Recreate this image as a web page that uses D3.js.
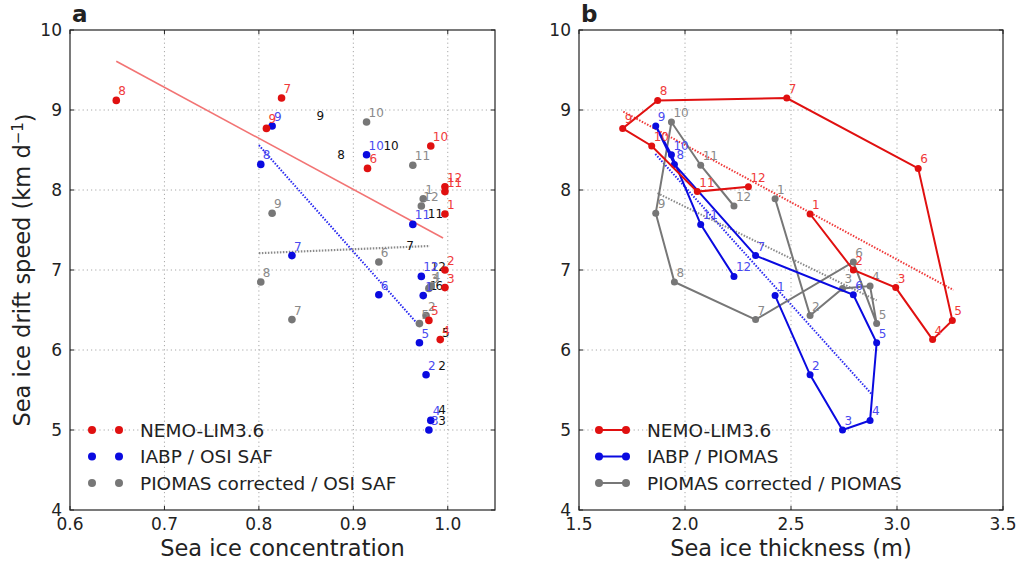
<!DOCTYPE html>
<html>
<head>
<meta charset="utf-8">
<script src="https://cdn.jsdelivr.net/npm/d3@7"></script>
<style>
  body { margin: 0; background: #fff; }
  svg { font-family: "DejaVu Sans", sans-serif; }
  .tick-label { font-size: 17px; fill: #222; }
  .axis-title { font-size: 22.5px; fill: #222; }
  .legend-text { font-size: 18.5px; fill: #222; }
  .month { font-size: 12px; }
</style>
</head>
<body>
<svg id="chart" width="1019" height="565"></svg>
<script>
// === DATA ===

const MONTHS = [1, 2, 3, 4, 5, 6, 7, 8, 9, 10, 11, 12];

// NEMO-LIM3.6
const nemoSpeed = [7.70, 7.00, 6.78, 6.13, 6.37, 8.27, 9.15, 9.12, 8.77, 8.55, 7.98, 8.04];
const nemoConc  = [0.997, 0.997, 0.997, 0.992, 0.980, 0.915, 0.824, 0.649, 0.808, 0.982, 0.997, 0.997];
const nemoThick = [2.59, 2.794, 2.994, 3.168, 3.261, 3.10, 2.48, 1.871, 1.706, 1.843, 2.058, 2.299];

// observations
const iabpSpeed   = [6.68, 5.69, 5.00, 5.12, 6.09, 6.69, 7.18, 8.32, 8.80, 8.44, 7.57, 6.92];
const piomasSpeed = [7.89, 6.43, 6.77, 6.80, 6.33, 7.10, 6.38, 6.85, 7.71, 8.85, 8.31, 7.80];
const osiConc     = [0.974, 0.977, 0.980, 0.982, 0.970, 0.927, 0.835, 0.802, 0.814, 0.914, 0.963, 0.972];
const piomasThick = [2.425, 2.590, 2.743, 2.873, 2.904, 2.794, 2.333, 1.950, 1.862, 1.936, 2.074, 2.231];

// black month labels in panel a (no markers)
const blackMonths = [9, 8, 10, 11, 7, 12, 1, 6, 5, 2, 4, 3];
const blackConc   = [0.865, 0.887, 0.940, 0.987, 0.960, 0.990, 0.985, 0.991, 0.998, 0.994, 0.994, 0.994];
const blackSpeed  = [8.925, 8.44, 8.56, 7.70, 7.31, 7.04, 6.81, 6.81, 6.22, 5.80, 5.25, 5.12];

// trend lines [x0, x1], [y0, y1]
const trendA = {
  nemo:   { x: [0.649, 0.995], y: [9.61, 7.40] },
  iabp:   { x: [0.800, 0.970], y: [8.56, 6.30] },
  piomas: { x: [0.800, 0.981], y: [7.21, 7.30] }
};
const trendB = {
  nemo:   { x: [1.709, 3.266], y: [8.98, 6.75] },
  iabp:   { x: [1.860, 2.880], y: [8.45, 5.45] },
  piomas: { x: [1.870, 2.904], y: [7.96, 6.62] }
};

const xTicksA = [0.6, 0.7, 0.8, 0.9, 1.0];
const xTicksB = [1.5, 2.0, 2.5, 3.0, 3.5];
const yTicks  = [4, 5, 6, 7, 8, 9, 10];

const legendA = ['NEMO-LIM3.6', 'IABP / OSI SAF', 'PIOMAS corrected / OSI SAF'];
const legendB = ['NEMO-LIM3.6', 'IABP / PIOMAS', 'PIOMAS corrected / PIOMAS'];

// === STYLE ===

const COLORS = { nemo: '#e01010', iabp: '#0a0ae0', piomas: '#777777' };
const LABEL_COLORS = { nemo: '#f03a3a', iabp: '#4a4af0', piomas: '#8a8a8a' };

const svg = d3.select('#chart');
const plotTop = 30, plotBottom = 510;

const y = d3.scaleLinear().domain([4, 10]).range([plotBottom, plotTop]);

// === PANEL FRAME / GRID ===

function drawFrame(g, x, xTicks, xFmt, left, right, letter) {
  const gridX = xTicks.filter(t => x(t) > left + 1 && x(t) < right - 1);
  g.selectAll(null).data(gridX)
    .join('line')
    .attr('x1', d => x(d)).attr('x2', d => x(d))
    .attr('y1', plotTop).attr('y2', plotBottom)
    .attr('stroke', '#a8a8a8').attr('stroke-dasharray', '1.2,3').attr('stroke-width', 1);
  g.selectAll(null).data(yTicks.slice(1, -1))
    .join('line')
    .attr('x1', left).attr('x2', right)
    .attr('y1', d => y(d)).attr('y2', d => y(d))
    .attr('stroke', '#a8a8a8').attr('stroke-dasharray', '1.2,3').attr('stroke-width', 1);

  // inward ticks
  xTicks.forEach(t => {
    g.append('line').attr('x1', x(t)).attr('x2', x(t)).attr('y1', plotBottom).attr('y2', plotBottom - 4).attr('stroke', '#222');
    g.append('line').attr('x1', x(t)).attr('x2', x(t)).attr('y1', plotTop).attr('y2', plotTop + 4).attr('stroke', '#222');
  });
  yTicks.forEach(t => {
    g.append('line').attr('x1', left).attr('x2', left + 4).attr('y1', y(t)).attr('y2', y(t)).attr('stroke', '#222');
    g.append('line').attr('x1', right).attr('x2', right - 4).attr('y1', y(t)).attr('y2', y(t)).attr('stroke', '#222');
  });

  // tick labels
  g.selectAll(null).data(xTicks).join('text')
    .attr('class', 'tick-label')
    .attr('x', d => x(d)).attr('y', 530)
    .attr('text-anchor', 'middle')
    .text(xFmt);
  g.selectAll(null).data(yTicks).join('text')
    .attr('class', 'tick-label')
    .attr('x', left - 8).attr('y', d => y(d))
    .attr('dy', '0.36em')
    .attr('text-anchor', 'end')
    .text(d => d);

  // frame
  g.append('rect')
    .attr('x', left).attr('y', plotTop)
    .attr('width', right - left).attr('height', plotBottom - plotTop)
    .attr('fill', 'none').attr('stroke', '#222').attr('stroke-width', 1.2);

  // panel letter
  g.append('text')
    .attr('x', left + 2).attr('y', 22)
    .attr('font-size', 23).attr('font-weight', 'bold').attr('fill', '#222')
    .text(letter);
}

function drawTrend(g, x, t, color, dash, width) {
  g.append('line')
    .attr('x1', x(t.x[0])).attr('y1', y(t.y[0]))
    .attr('x2', x(t.x[1])).attr('y2', y(t.y[1]))
    .attr('stroke', color).attr('stroke-width', width)
    .attr('stroke-dasharray', dash);
}

function drawSeries(g, x, xs, ys, key, r, withLine) {
  const pts = MONTHS.map((m, i) => ({ m, x: xs[i], y: ys[i] }));
  if (withLine) {
    g.append('path')
      .datum(pts)
      .attr('fill', 'none')
      .attr('stroke', COLORS[key]).attr('stroke-width', 2)
      .attr('d', d3.line().x(d => x(d.x)).y(d => y(d.y)));
  }
  g.selectAll(null).data(pts).join('circle')
    .attr('cx', d => x(d.x)).attr('cy', d => y(d.y))
    .attr('r', r).attr('fill', COLORS[key]);
  g.selectAll(null).data(pts).join('text')
    .attr('class', 'month')
    .attr('x', d => x(d.x) + 2).attr('y', d => y(d.y) - 5)
    .attr('fill', LABEL_COLORS[key])
    .text(d => d.m);
}

function drawLegend(g, labels, x0, withLine) {
  const keys = ['nemo', 'iabp', 'piomas'];
  labels.forEach((lab, i) => {
    const ly = 430 + i * 26.5;
    if (withLine) {
      g.append('line').attr('x1', x0).attr('x2', x0 + 27).attr('y1', ly).attr('y2', ly)
        .attr('stroke', COLORS[keys[i]]).attr('stroke-width', 2);
    }
    [x0, x0 + 27].forEach(cx => {
      g.append('circle').attr('cx', cx).attr('cy', ly).attr('r', 4).attr('fill', COLORS[keys[i]]);
    });
    g.append('text').attr('class', 'legend-text')
      .attr('x', x0 + 48).attr('y', ly).attr('dy', '0.36em')
      .text(lab);
  });
}

// === PANEL A ===

const leftA = 70, rightA = 495;
const xA = d3.scaleLinear().domain([0.6, 1.05]).range([leftA, rightA]);
const gA = svg.append('g');
drawFrame(gA, xA, xTicksA, d => d.toFixed(1), leftA, rightA, 'a');

drawTrend(gA, xA, trendA.nemo, '#f27474', null, 1.6);
drawTrend(gA, xA, trendA.iabp, '#2a2af0', '1.5,1.5', 2);
drawTrend(gA, xA, trendA.piomas, '#8a8a8a', '1.5,1.5', 2.2);

gA.selectAll(null).data(blackMonths).join('text')
  .attr('class', 'month')
  .attr('x', (d, i) => xA(blackConc[i])).attr('y', (d, i) => y(blackSpeed[i]))
  .attr('text-anchor', 'middle').attr('dy', '0.36em')
  .attr('fill', '#111')
  .text(d => d);

drawSeries(gA, xA, osiConc, piomasSpeed, 'piomas', 3.8, false);
drawSeries(gA, xA, osiConc, iabpSpeed, 'iabp', 3.8, false);
drawSeries(gA, xA, nemoConc, nemoSpeed, 'nemo', 3.8, false);

drawLegend(gA, legendA, 92, false);

gA.append('text').attr('class', 'axis-title')
  .attr('x', (leftA + rightA) / 2).attr('y', 556)
  .attr('text-anchor', 'middle')
  .text('Sea ice concentration');

const yTitle = gA.append('text').attr('class', 'axis-title')
  .attr('transform', `translate(30, ${(plotTop + plotBottom) / 2}) rotate(-90)`)
  .attr('text-anchor', 'middle');
yTitle.append('tspan').text('Sea ice drift speed (km d');
yTitle.append('tspan').attr('dy', '-0.45em').attr('font-size', 15).text('\u22121');
yTitle.append('tspan').attr('dy', '0.45em').text(')');

// === PANEL B ===

const leftB = 579, rightB = 1003;
const xB = d3.scaleLinear().domain([1.5, 3.5]).range([leftB, rightB]);
const gB = svg.append('g');
drawFrame(gB, xB, xTicksB, d => d.toFixed(1), leftB, rightB, 'b');

drawTrend(gB, xB, trendB.nemo, '#f03a3a', '1.5,1.5', 2);
drawTrend(gB, xB, trendB.iabp, '#2a2af0', '1.5,1.5', 2);
drawTrend(gB, xB, trendB.piomas, '#8a8a8a', '1.5,1.5', 2);

drawSeries(gB, xB, piomasThick, piomasSpeed, 'piomas', 3.5, true);
drawSeries(gB, xB, piomasThick, iabpSpeed, 'iabp', 3.5, true);
drawSeries(gB, xB, nemoThick, nemoSpeed, 'nemo', 3.5, true);

drawLegend(gB, legendB, 599, true);

gB.append('text').attr('class', 'axis-title')
  .attr('x', (leftB + rightB) / 2).attr('y', 556)
  .attr('text-anchor', 'middle')
  .text('Sea ice thickness (m)');
</script>
</body>
</html>
